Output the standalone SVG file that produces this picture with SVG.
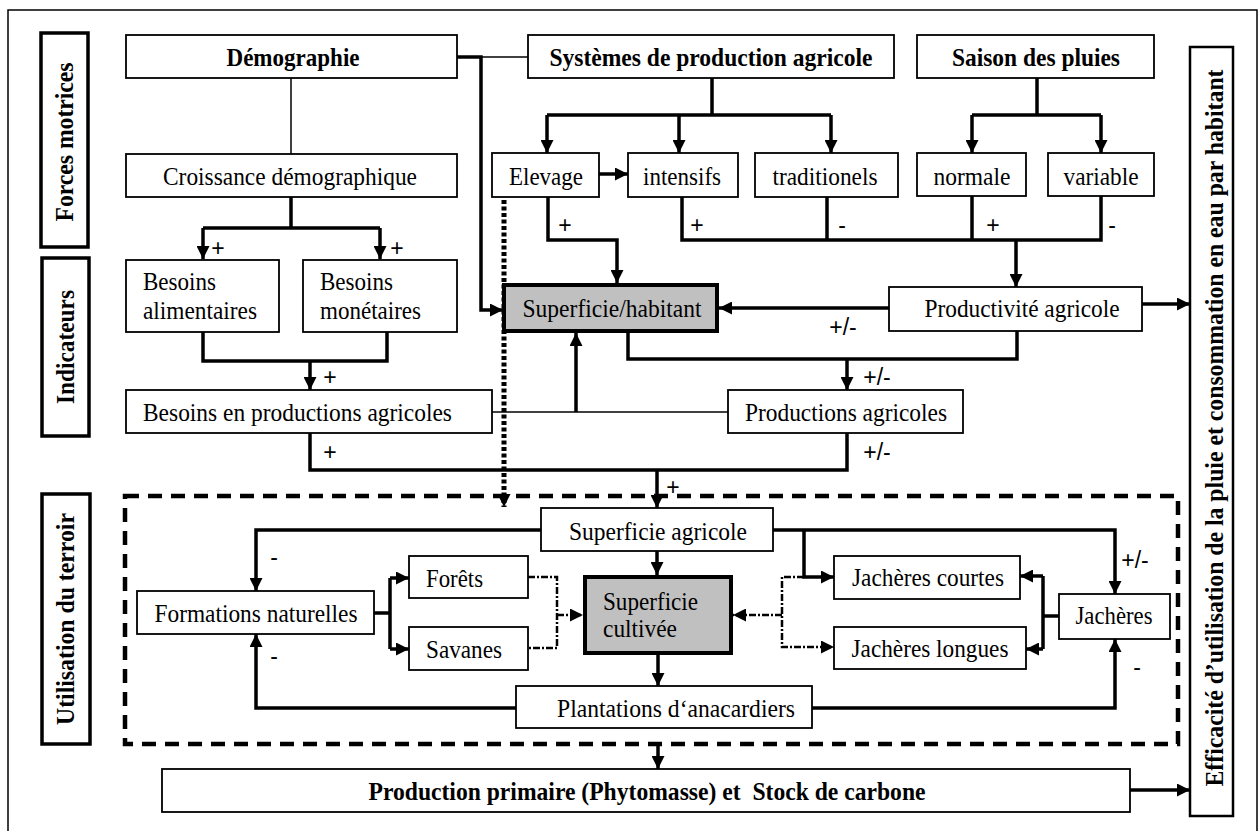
<svg xmlns="http://www.w3.org/2000/svg" width="1260" height="831" viewBox="0 0 1260 831">
<style>
.box{fill:#fff;stroke:#000;stroke-width:1.8}
.side{fill:#fff;stroke:#000;stroke-width:3.5}
.key{fill:#c0c0c0;stroke:#000;stroke-width:4}
text.t{font-family:'Liberation Serif','DejaVu Serif',serif;font-size:25px;fill:#000}
.b{font-weight:bold}
.g{fill:#333}
.m{text-anchor:middle}
text.lbl{font-family:'Liberation Sans','DejaVu Sans',sans-serif;font-size:23px;fill:#000;text-anchor:middle}
.thick{fill:none;stroke:#000;stroke-width:3.5}
.thin{fill:none;stroke:#000;stroke-width:1.5}
.dd{fill:none;stroke:#000;stroke-width:2.5;stroke-dasharray:7 2 2 2}
.dot{fill:none;stroke:#000;stroke-width:5;stroke-dasharray:4 2.5}
.frame{fill:none;stroke:#000;stroke-width:4.5;stroke-dasharray:14 9}
</style>
<defs>
<marker id="ar" markerUnits="userSpaceOnUse" markerWidth="13" markerHeight="13" refX="13" refY="6.5" orient="auto">
<path d="M0,0 L13,6.5 L0,13 z" fill="#000"/>
</marker>
</defs>
<rect x="8" y="10" width="1249" height="830" fill="#fff" stroke="#000" stroke-width="1.5"/>
<rect class="frame" x="125" y="496" width="1053" height="248"/>

<g id="connectors">
<path class="thick" d="M457,57 H481 V310 H503" marker-end="url(#ar)"/>
<path class="thin" d="M481,57 H528"/>
<path class="thin" d="M291,78 V154"/>
<path class="thick" d="M291,197 V228 M203,228 H380"/>
<path class="thick" d="M203,228 V259" marker-end="url(#ar)"/>
<path class="thick" d="M380,228 V259" marker-end="url(#ar)"/>
<path class="thick" d="M203,332 V361 H387 V332"/>
<path class="thick" d="M310,361 V390" marker-end="url(#ar)"/>
<path class="thick" d="M310,433 V470 H847 V433"/>
<path class="thick" d="M657,470 V508" marker-end="url(#ar)"/>
<path class="thin" d="M492,412 H728"/>
<path class="thick" d="M576,412 V333" marker-end="url(#ar)"/>
<path class="thick" d="M712,78 V115 M547,115 H831"/>
<path class="thick" d="M547,115 V153" marker-end="url(#ar)"/>
<path class="thick" d="M679,115 V153" marker-end="url(#ar)"/>
<path class="thick" d="M831,115 V153" marker-end="url(#ar)"/>
<path class="thick" d="M1037,78 V115 M972,115 H1101"/>
<path class="thick" d="M972,115 V153" marker-end="url(#ar)"/>
<path class="thick" d="M1101,115 V153" marker-end="url(#ar)"/>
<path class="thick" d="M599,174 H628" marker-end="url(#ar)"/>
<path class="thick" d="M548,197 V240 H617 V283" marker-end="url(#ar)"/>
<path class="thick" d="M682,197 V240 H1101 V196 M827,197 V240 M972,196 V240"/>
<path class="thick" d="M1016,240 V287" marker-end="url(#ar)"/>
<path class="thick" d="M889,308 H719" marker-end="url(#ar)"/>
<path class="thick" d="M1142,304 H1190" marker-end="url(#ar)"/>
<path class="thick" d="M628,333 V359 H1017 V331"/>
<path class="thick" d="M847,359 V390" marker-end="url(#ar)"/>
<path class="dot" d="M504,200 V507" marker-end="url(#ar)"/>
<path class="thick" d="M541,530 H256 V591" marker-end="url(#ar)"/>
<path class="thick" d="M773,530 H1115 V594" marker-end="url(#ar)"/>
<path class="thick" d="M804,530 V577 H834" marker-end="url(#ar)"/>
<path class="thick" d="M657,551 V575" marker-end="url(#ar)"/>
<path class="thick" d="M658,655 V686" marker-end="url(#ar)"/>
<path class="thick" d="M516,708 H256 V634" marker-end="url(#ar)"/>
<path class="thick" d="M812,708 H1115 V639" marker-end="url(#ar)"/>
<path class="thick" d="M374,613 H390 M390,578 V649"/>
<path class="thick" d="M390,578 H409" marker-end="url(#ar)"/>
<path class="thick" d="M390,649 H409" marker-end="url(#ar)"/>
<path class="dd" d="M528,577 H557 V648 H528"/>
<path class="dd" d="M557,615 H583" marker-end="url(#ar)"/>
<path class="dd" d="M804,577 H782 V647 H834" marker-end="url(#ar)"/>
<path class="dd" d="M782,615 H733" marker-end="url(#ar)"/>
<path class="thick" d="M1059,616 H1043 M1043,576 V649"/>
<path class="thick" d="M1043,576 H1020" marker-end="url(#ar)"/>
<path class="thick" d="M1043,649 H1026" marker-end="url(#ar)"/>
<path class="thick" d="M658,745 V769" marker-end="url(#ar)"/>
<path class="thick" d="M1130,790 H1190" marker-end="url(#ar)"/>
</g>

<g id="labels">
<text class="lbl" x="218" y="256">+</text>
<text class="lbl" x="397" y="256">+</text>
<text class="lbl" x="330" y="385">+</text>
<text class="lbl" x="330" y="460">+</text>
<text class="lbl" x="877" y="385">+/-</text>
<text class="lbl" x="877" y="460">+/-</text>
<text class="lbl" x="673" y="495">+</text>
<text class="lbl" x="843" y="335">+/-</text>
<text class="lbl" x="565" y="233">+</text>
<text class="lbl" x="697" y="233">+</text>
<text class="lbl" x="842" y="233">-</text>
<text class="lbl" x="993" y="233">+</text>
<text class="lbl" x="1112" y="233">-</text>
<text class="lbl" x="274" y="565">-</text>
<text class="lbl" x="274" y="664">-</text>
<text class="lbl" x="1135" y="568">+/-</text>
<text class="lbl" x="1137" y="675">-</text>
</g>

<g id="forces-motrices"><rect class="side" x="41" y="33" width="47" height="214"/>
<text class="t b m" transform="translate(73,142) rotate(-90)" font-size="24" textLength="159" lengthAdjust="spacingAndGlyphs">Forces motrices</text></g>
<g id="indicateurs"><rect class="side" x="42" y="258" width="47" height="178"/>
<text class="t b m" transform="translate(74,347) rotate(-90)" font-size="24" textLength="114" lengthAdjust="spacingAndGlyphs">Indicateurs</text></g>
<g id="utilisation-terroir"><rect class="side" x="42" y="494" width="48" height="250"/>
<text class="t b m" transform="translate(74,619) rotate(-90)" font-size="24" textLength="212" lengthAdjust="spacingAndGlyphs">Utilisation du terroir</text></g>
<g id="efficacite"><rect x="1190" y="47" width="43" height="769" fill="#fff" stroke="#000" stroke-width="2.5"/>
<text class="t b m" transform="translate(1223,428) rotate(-90)" font-size="24" textLength="717" lengthAdjust="spacingAndGlyphs">Efficacité d’utilisation de la pluie et consommation en eau par habitant</text></g>

<g id="demographie"><rect class="box" x="126" y="35" width="331" height="43"/>
<text class="t b m" x="293" y="66" textLength="133" lengthAdjust="spacingAndGlyphs">Démographie</text></g>
<g id="systemes"><rect class="box" x="528" y="35" width="366" height="43"/>
<text class="t b m" x="711" y="66" textLength="323" lengthAdjust="spacingAndGlyphs">Systèmes de production agricole</text></g>
<g id="saison"><rect class="box" x="917" y="35" width="237" height="43"/>
<text class="t b m" x="1036" y="66" textLength="168" lengthAdjust="spacingAndGlyphs">Saison des pluies</text></g>
<g id="croissance"><rect class="box" x="126" y="154" width="331" height="43"/>
<text class="t m" x="290" y="185" textLength="254" lengthAdjust="spacingAndGlyphs">Croissance démographique</text></g>
<g id="elevage"><rect class="box" x="492" y="153" width="107" height="44"/>
<text class="t m" x="546" y="185" textLength="74" lengthAdjust="spacingAndGlyphs">Elevage</text></g>
<g id="intensifs"><rect class="box" x="628" y="153" width="110" height="44"/>
<text class="t m" x="682" y="185" textLength="78" lengthAdjust="spacingAndGlyphs">intensifs</text></g>
<g id="traditionels"><rect class="box" x="755" y="153" width="143" height="44"/>
<text class="t m" x="825" y="185" textLength="105" lengthAdjust="spacingAndGlyphs">traditionels</text></g>
<g id="normale"><rect class="box" x="917" y="153" width="109" height="43"/>
<text class="t m" x="972" y="185" textLength="77" lengthAdjust="spacingAndGlyphs">normale</text></g>
<g id="variable"><rect class="box" x="1048" y="153" width="106" height="43"/>
<text class="t m" x="1101" y="185" textLength="75" lengthAdjust="spacingAndGlyphs">variable</text></g>
<g id="besoins-alimentaires"><rect class="box" x="126" y="260" width="153" height="72"/>
<text class="t" x="143" y="290" textLength="73" lengthAdjust="spacingAndGlyphs">Besoins</text>
<text class="t" x="143" y="319" textLength="114" lengthAdjust="spacingAndGlyphs">alimentaires</text></g>
<g id="besoins-monetaires"><rect class="box" x="303" y="260" width="154" height="72"/>
<text class="t" x="320" y="290" textLength="73" lengthAdjust="spacingAndGlyphs">Besoins</text>
<text class="t" x="320" y="319" textLength="101" lengthAdjust="spacingAndGlyphs">monétaires</text></g>
<g id="superficie-habitant"><rect class="key" x="504" y="285" width="213" height="46"/>
<text class="t m g" x="612" y="317" textLength="179" lengthAdjust="spacingAndGlyphs">Superficie/habitant</text></g>
<g id="productivite"><rect class="box" x="889" y="287" width="253" height="44"/>
<text class="t m" x="1022" y="317" textLength="195" lengthAdjust="spacingAndGlyphs">Productivité agricole</text></g>
<g id="besoins-productions"><rect class="box" x="126" y="390" width="366" height="43"/>
<text class="t" x="143" y="421" textLength="309" lengthAdjust="spacingAndGlyphs">Besoins en productions agricoles</text></g>
<g id="productions-agricoles"><rect class="box" x="728" y="390" width="235" height="43"/>
<text class="t m" x="846" y="421" textLength="202" lengthAdjust="spacingAndGlyphs">Productions agricoles</text></g>
<g id="superficie-agricole"><rect class="box" x="541" y="508" width="232" height="43"/>
<text class="t m" x="658" y="540" textLength="178" lengthAdjust="spacingAndGlyphs">Superficie agricole</text></g>
<g id="formations-naturelles"><rect class="box" x="137" y="591" width="237" height="43"/>
<text class="t m" x="256" y="622" textLength="203" lengthAdjust="spacingAndGlyphs">Formations naturelles</text></g>
<g id="forets"><rect class="box" x="409" y="556" width="119" height="42"/>
<text class="t" x="426" y="587" textLength="57" lengthAdjust="spacingAndGlyphs">Forêts</text></g>
<g id="savanes"><rect class="box" x="409" y="627" width="119" height="43"/>
<text class="t" x="426" y="658" textLength="76" lengthAdjust="spacingAndGlyphs">Savanes</text></g>
<g id="superficie-cultivee"><rect class="key" x="585" y="577" width="146" height="76"/>
<text class="t g" x="603" y="610" textLength="95" lengthAdjust="spacingAndGlyphs">Superficie</text>
<text class="t g" x="603" y="637" textLength="74" lengthAdjust="spacingAndGlyphs">cultivée</text></g>
<g id="jacheres-courtes"><rect class="box" x="834" y="556" width="186" height="43"/>
<text class="t m" x="928" y="586" textLength="152" lengthAdjust="spacingAndGlyphs">Jachères courtes</text></g>
<g id="jacheres-longues"><rect class="box" x="834" y="627" width="192" height="42"/>
<text class="t m" x="930" y="657" textLength="157" lengthAdjust="spacingAndGlyphs">Jachères longues</text></g>
<g id="jacheres"><rect class="box" x="1059" y="594" width="111" height="45"/>
<text class="t m" x="1114" y="624" textLength="77" lengthAdjust="spacingAndGlyphs">Jachères</text></g>
<g id="plantations"><rect class="box" x="516" y="686" width="296" height="42"/>
<text class="t m" x="676" y="717" textLength="238" lengthAdjust="spacingAndGlyphs">Plantations d‘anacardiers</text></g>
<g id="production-primaire"><rect class="box" x="162" y="769" width="968" height="43"/>
<text class="t b m" x="647" y="800" textLength="557" lengthAdjust="spacingAndGlyphs" xml:space="preserve">Production primaire (Phytomasse) et  Stock de carbone</text></g>
</svg>
